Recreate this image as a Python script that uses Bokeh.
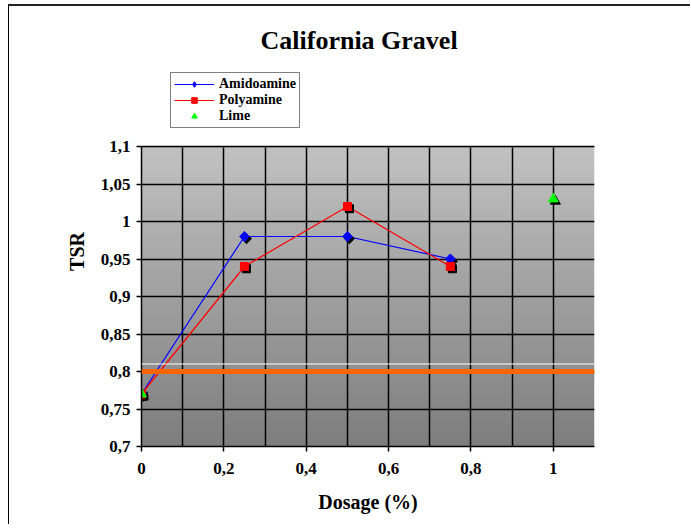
import numpy as np
from bokeh.plotting import figure
from bokeh.models import FixedTicker, Legend, LegendItem, Span, Title, BoxAnnotation
from bokeh.transform import dodge
from bokeh.embed import file_html
from bokeh.resources import INLINE

# data
amido_x = [0, 0.25, 0.5, 0.75]
amido_y = [0.77, 0.98, 0.98, 0.95]
poly_x = [0, 0.25, 0.5, 0.75]
poly_y = [0.77, 0.94, 1.02, 0.94]
lime_x = [0, 1]
lime_y = [0.77, 1.03]
threshold = 0.8
white_ref = 0.81
x_ticks = [0, 0.2, 0.4, 0.6, 0.8, 1]
x_labels = ["0", "0,2", "0,4", "0,6", "0,8", "1"]
y_ticks = [0.7, 0.75, 0.8, 0.85, 0.9, 0.95, 1.0, 1.05, 1.1]
y_labels = ["0,7", "0,75", "0,8", "0,85", "0,9", "0,95", "1", "1,05", "1,1"]
x_grid = [0.1, 0.2, 0.3, 0.4, 0.5, 0.6, 0.7, 0.8, 0.9, 1.0, 1.1]
y_min, y_max = y_ticks[0], y_ticks[-1]

FONT = "Liberation Serif"

# frame extends above the data area to host the legend (blanked out with white)
p = figure(width=682, height=520, x_range=(0, 1.1), y_range=(y_min, 1.22),
           output_backend="svg", toolbar_location=None,
           min_border_left=132, min_border_right=97, min_border_top=50, min_border_bottom=80)
p.styles = {"margin-left": "8px", "margin-top": "4px",
            "border-left": "1px solid #000", "border-top": "2px solid #222"}

# gradient background
n = 200
shade = np.linspace(126, 194, n).astype(np.uint8)
img = np.zeros((n, 1), dtype=np.uint32)
view = img.view(dtype=np.uint8).reshape((n, 1, 4))
view[:, 0, 0] = shade
view[:, 0, 1] = shade
view[:, 0, 2] = shade
view[:, 0, 3] = 255
r_img = p.image_rgba(image=[img], x=0, y=y_min, dw=1.1, dh=y_max - y_min)
r_img.level = "image"

p.outline_line_color = None
p.background_fill_color = "white"
p.border_fill_color = "white"

# grid
p.xgrid.ticker = FixedTicker(ticks=x_grid)
p.ygrid.ticker = FixedTicker(ticks=y_ticks)
p.xgrid.cross_bounds = (y_min, y_max)
for g in (p.xgrid, p.ygrid):
    g.grid_line_color = "black"
    g.grid_line_width = 1.5
    g.grid_line_alpha = 1

# blank out the region above the data area
p.add_layout(BoxAnnotation(bottom=y_max, fill_color="white", fill_alpha=1,
                           line_color="white", line_width=3, level="underlay"))
p.add_layout(Span(location=y_max, dimension="width", line_color="black", line_width=1.5, level="underlay"))

# reference lines
p.add_layout(Span(location=white_ref, dimension="width", line_color="white", line_width=1.2))
p.add_layout(Span(location=threshold, dimension="width", line_color="#FF6600", line_width=5))

# series lines
l_am = p.line(amido_x, amido_y, line_color="#0000FF", line_width=1.2)
l_po = p.line(poly_x, poly_y, line_color="#FF0000", line_width=1.2)

# shadows
for xs, ys, mk, sz, ang in ((amido_x, amido_y, "square", 7, np.pi / 4), (poly_x, poly_y, "square", 8, 0),
                            (lime_x, lime_y, "triangle", 10, 0)):
    src = {"x": xs, "y": ys}
    p.scatter(x=dodge("x", 0.005), y=dodge("y", -0.003), source=src, marker=mk, size=sz, angle=ang,
              fill_color="black", line_color="black")

# diamond glyph (used for the legend key), covered by the wider rotated square
m_am_key = p.scatter(amido_x, amido_y, marker="diamond", size=10, fill_color="#0000FF", line_color="#0000FF")
m_am = p.scatter(amido_x, amido_y, marker="square", size=7, angle=np.pi / 4,
                 fill_color="#0000FF", line_color="#0000FF")
m_po = p.scatter(poly_x, poly_y, marker="square", size=8, fill_color="#FF0000", line_color="#FF0000")
m_li = p.scatter(lime_x, lime_y, marker="triangle", size=10, fill_color="#00FF00", line_color="#00FF00")

# axes
p.xaxis.ticker = FixedTicker(ticks=x_ticks)
p.xaxis.major_label_overrides = dict(zip(x_ticks, x_labels))
p.yaxis.ticker = FixedTicker(ticks=y_ticks)
p.yaxis.major_label_overrides = dict(zip(y_ticks, y_labels))
p.yaxis.bounds = (y_min, y_max)
for ax in (p.xaxis, p.yaxis):
    ax.axis_line_color = "black"
    ax.axis_line_width = 1.5
    ax.major_tick_line_color = "black"
    ax.major_tick_line_width = 1.5
    ax.major_tick_out = 5
    ax.major_tick_in = 0
    ax.minor_tick_line_color = None
    ax.major_label_text_font = FONT
    ax.major_label_text_font_style = "bold"
    ax.major_label_text_font_size = "17px"
    ax.major_label_text_color = "black"
    ax.axis_label_text_font = FONT
    ax.axis_label_text_font_style = "bold"
    ax.axis_label_text_font_size = "20px"
    ax.axis_label_text_color = "black"
p.xaxis.major_label_standoff = 11
p.yaxis.major_label_standoff = 6
p.xaxis.axis_label = "Dosage (%)"
p.yaxis.axis_label = "TSR"
p.xaxis.axis_label_standoff = 14
p.yaxis.axis_label_standoff = 10

# legend
legend = Legend(items=[
    LegendItem(label="Amidoamine", renderers=[l_am, m_am_key]),
    LegendItem(label="Polyamine", renderers=[l_po, m_po]),
    LegendItem(label="Lime", renderers=[m_li]),
], location=(29, 318))
legend.label_text_font = FONT
legend.label_text_font_style = "bold"
legend.label_text_font_size = "14px"
legend.label_text_color = "black"
legend.label_height = 14
legend.glyph_height = 14
legend.glyph_width = 40
legend.label_standoff = 5
legend.spacing = 0
legend.padding = 3
legend.margin = 0
legend.border_line_color = "black"
legend.border_line_width = 1
legend.background_fill_color = "white"
legend.background_fill_alpha = 1
p.add_layout(legend, "center")

# title
t = Title(text="California Gravel", align="left", offset=119, standoff=4,
          text_font=FONT, text_font_style="bold", text_font_size="26px", text_color="black")
p.add_layout(t, "above")

open("out.html", "w").write(file_html(p, INLINE))
